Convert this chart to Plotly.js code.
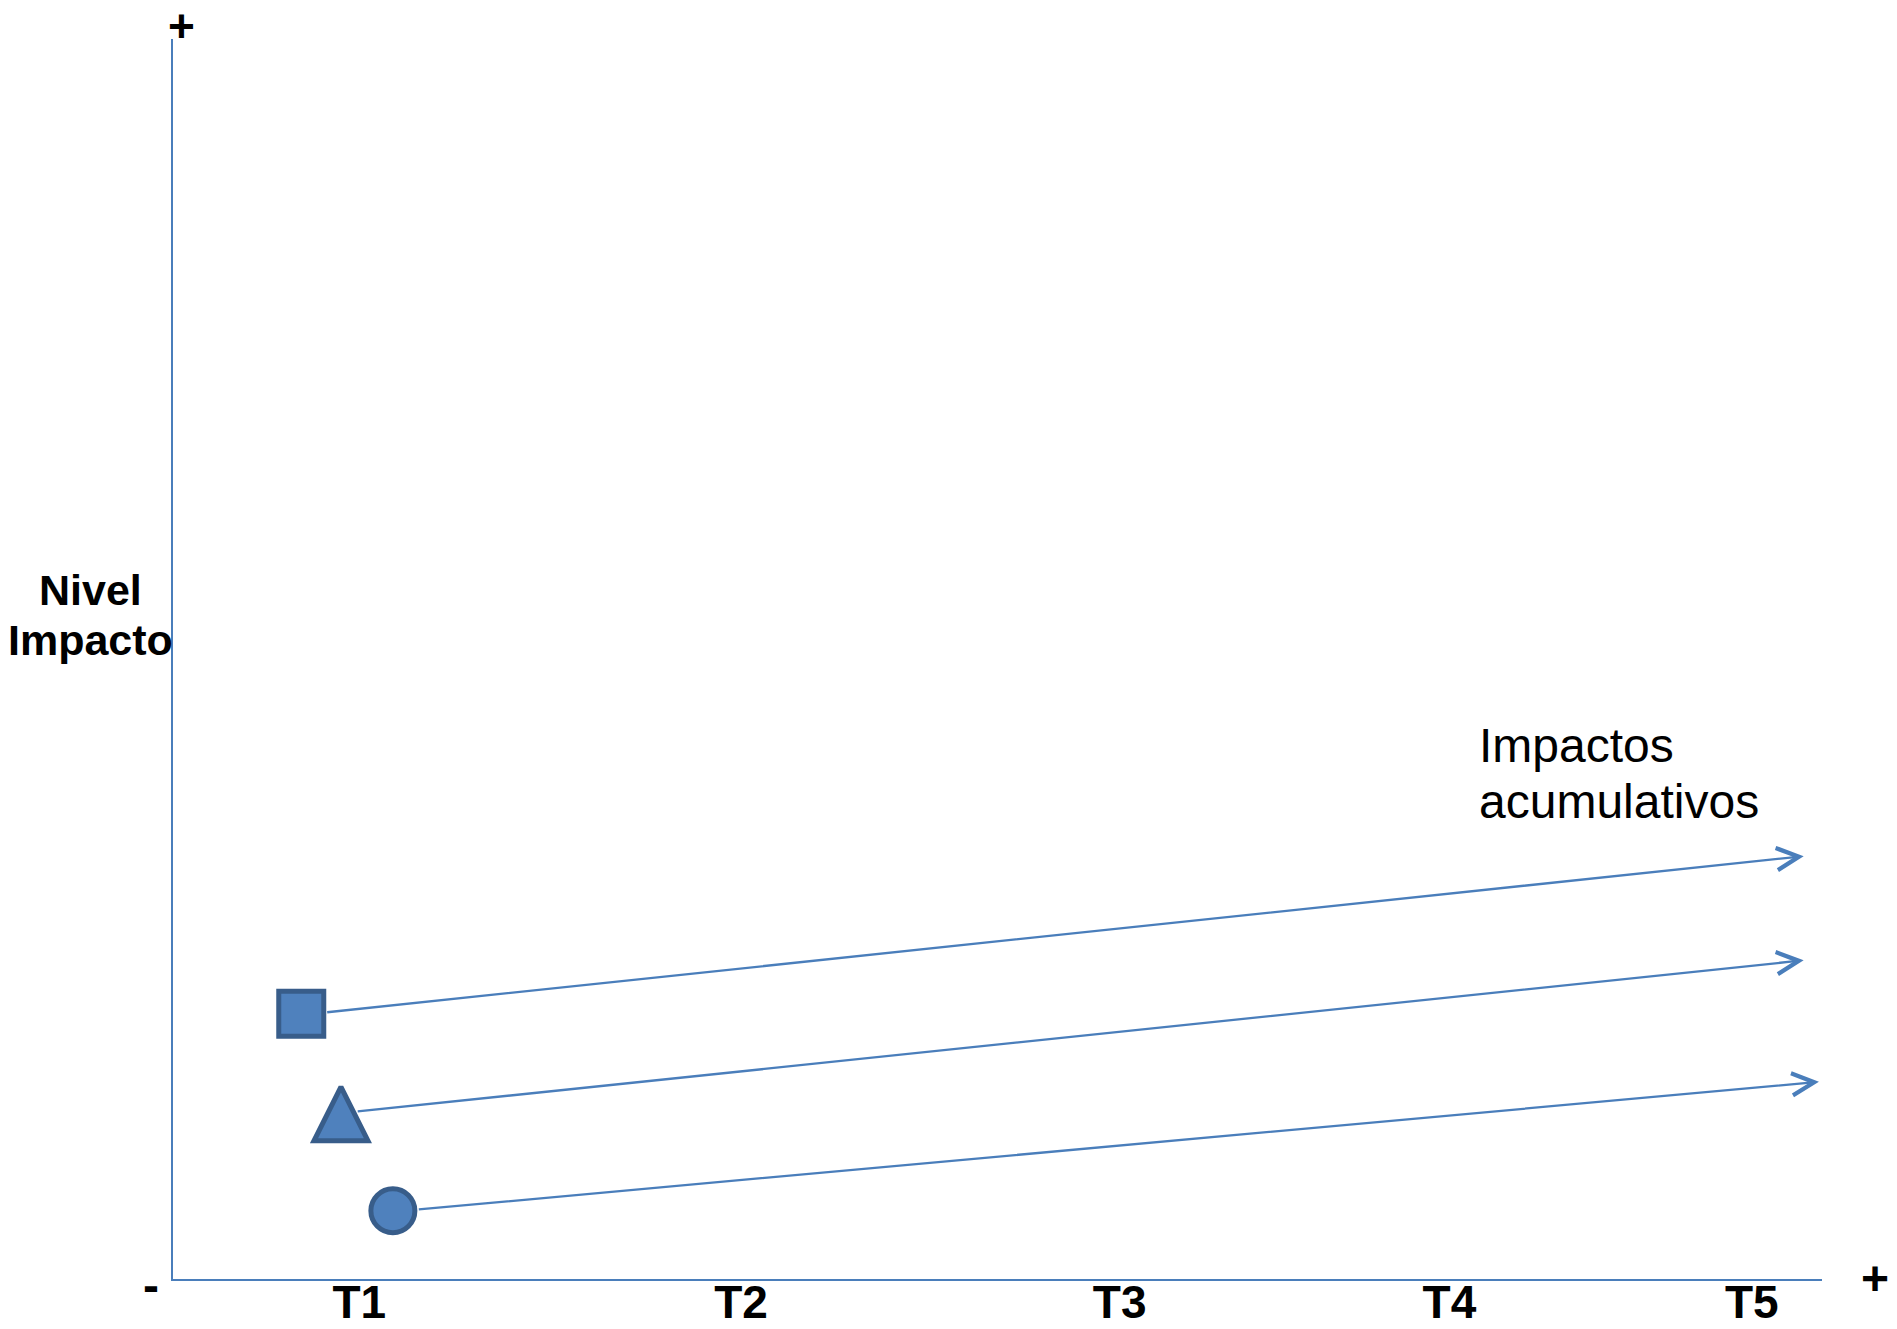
<!DOCTYPE html>
<html>
<head>
<meta charset="utf-8">
<script src="https://cdn.plot.ly/plotly-3.0.1.min.js"></script>
<style>
  html, body { margin: 0; padding: 0; background: #ffffff; }
  #chart { width: 1897px; height: 1329px; }
</style>
</head>
<body>
<div id="chart"></div>
<script>
// ---- data ----
const timeLabels = ['T1', 'T2', 'T3', 'T4', 'T5'];
const timePositions = [0.61, 1.86, 3.10, 4.18, 5.17];

const impactSymbols = ['square', 'arrow-up', 'circle'];
const impactX = [0.42, 0.55, 0.72];
const impactY = [2.14, 1.55, 0.55];
const impactSizes = [45, 54, 44];

const trendStartX = [0.50, 0.60, 0.80];
const trendStartY = [2.15, 1.35, 0.56];
const trendEndX = [5.34, 5.34, 5.39];
const trendEndY = [3.41, 2.57, 1.59];

const yAxisLabelLines = ['Nivel', 'Impacto'];
const noteLines = ['Impactos', 'acumulativos'];

// ---- styles ----
const FONT = 'Liberation Sans, Arial, sans-serif';
const AXIS_COLOR = '#4A7EBB';
const FILL = '#4F81BD';
const EDGE = '#385D8A';

const traces = [{
  type: 'scatter',
  mode: 'markers',
  x: impactX,
  y: impactY,
  marker: {
    symbol: impactSymbols,
    size: impactSizes,
    color: FILL,
    opacity: 1,
    line: { color: EDGE, width: 5 }
  },
  cliponaxis: false,
  hoverinfo: 'skip',
  showlegend: false
}];

const annotations = [];

// trend arrows
for (let i = 0; i < trendStartX.length; i++) {
  annotations.push({
    xref: 'x', yref: 'y', axref: 'x', ayref: 'y',
    x: trendEndX[i], y: trendEndY[i],
    ax: trendStartX[i], ay: trendStartY[i],
    text: '',
    showarrow: true,
    arrowhead: 5,
    arrowsize: 1.9,
    arrowwidth: 2.3,
    arrowcolor: AXIS_COLOR
  });
}

// axis end signs
const signFont = { family: FONT, size: 48, color: '#000000', weight: 'bold' };
annotations.push({ xref: 'paper', yref: 'paper', x: 0.0049, y: 1.0314, text: '+', showarrow: false,
  xanchor: 'center', yanchor: 'top', borderpad: 0, borderwidth: 0,
  font: { family: FONT, size: 46, color: '#000000', weight: 'bold' } });
annotations.push({ xref: 'paper', yref: 'paper', x: 1.0321, y: 0.0008, text: '+', showarrow: false,
  xanchor: 'center', yanchor: 'middle', font: signFont });
annotations.push({ xref: 'paper', yref: 'paper', x: -0.0133, y: -0.0056, text: '-', showarrow: false,
  xanchor: 'center', yanchor: 'middle', font: signFont });

// y axis label (two lines)
const yLabelFont = { family: FONT, size: 43, color: '#000000', weight: 'bold' };
const yLabelY = [0.5558, 0.5150];
yAxisLabelLines.forEach((t, i) => annotations.push({
  xref: 'paper', yref: 'paper', x: -0.0503, y: yLabelY[i], text: t, showarrow: false,
  xanchor: 'center', yanchor: 'middle', font: yLabelFont
}));

// note text
const noteFont = { family: FONT, size: 48, color: '#000000' };
const noteY = [0.4303, 0.3850];
noteLines.forEach((t, i) => annotations.push({
  xref: 'paper', yref: 'paper', x: 0.7908, y: noteY[i], text: t, showarrow: false,
  xanchor: 'left', yanchor: 'middle', font: noteFont
}));

const layout = {
  width: 1897,
  height: 1329,
  margin: { l: 173, r: 75, t: 39, b: 50, pad: 0 },
  paper_bgcolor: '#ffffff',
  plot_bgcolor: '#ffffff',
  showlegend: false,
  hovermode: false,
  xaxis: {
    range: [0, 5.4],
    showgrid: false,
    zeroline: false,
    showline: true,
    linecolor: AXIS_COLOR,
    linewidth: 2,
    tickmode: 'array',
    tickvals: timePositions,
    ticktext: timeLabels,
    ticks: '',
    ticklabelstandoff: -18,
    tickfont: { family: FONT, size: 46, color: '#000000', weight: 'bold' },
    automargin: false,
    fixedrange: true
  },
  yaxis: {
    range: [0, 10],
    showgrid: false,
    zeroline: false,
    showline: true,
    linecolor: AXIS_COLOR,
    linewidth: 2,
    showticklabels: false,
    ticks: '',
    fixedrange: true
  },
  annotations: annotations
};

Plotly.newPlot('chart', traces, layout, { staticPlot: true, displayModeBar: false });
</script>
</body>
</html>
